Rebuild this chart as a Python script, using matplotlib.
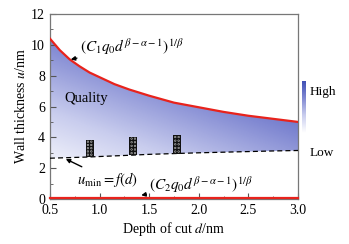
import numpy as np
import matplotlib
matplotlib.use("Agg")
import matplotlib.pyplot as plt
from matplotlib.colors import LinearSegmentedColormap
from matplotlib.path import Path
from matplotlib.patches import PathPatch

plt.rcParams['font.family'] = ['Liberation Serif', 'DejaVu Serif']
plt.rcParams['mathtext.fontset'] = 'stix'

# upper limit curve (C1 q0 d^(b-a-1))^(1/b)
d_pts = [0.5, 0.6, 0.7, 0.8, 0.9, 1.0, 1.15, 1.3, 1.5, 1.75, 2.0, 2.25, 2.5, 2.75, 3.0]
u_upper = [10.4, 9.65, 9.05, 8.6, 8.2, 7.9, 7.45, 7.1, 6.7, 6.25, 5.95, 5.65, 5.4, 5.2, 5.0]
# lower dashed line u_min = f(d)
u_lower = [2.65, 2.67, 2.69, 2.71, 2.73, 2.76, 2.8, 2.84, 2.9, 2.95, 3.0, 3.04, 3.08, 3.12, 3.15]
# second limit curve near zero
u_bottom = [0.08] * len(d_pts)

# hatched black markers (simulation samples)
mark_d = [0.9, 1.34, 1.78]
mark_lo = [2.75, 2.85, 2.95]
mark_hi = [3.85, 4.05, 4.15]

cmap = LinearSegmentedColormap.from_list("q", ["#ffffff", "#c9cdee", "#8088d2", "#3d4db3"])

fig = plt.figure(figsize=(3.49, 2.44), dpi=100)
ax = fig.add_axes([0.143, 0.184, 0.711, 0.759])

# gradient quality region
xx, yy = np.meshgrid(np.linspace(0.5, 3.0, 200), np.linspace(0, 12, 200))
field = np.clip(0.1 + 0.075 * (yy - 2.5) + 0.18 * (xx - 0.5), 0, 0.78)
im = ax.imshow(field, extent=[0.5, 3.0, 0, 12], origin="lower", cmap=cmap,
               vmin=0, vmax=1, aspect="auto", zorder=1)
verts = list(zip(d_pts, u_upper)) + list(zip(d_pts[::-1], u_lower[::-1]))
clip = PathPatch(Path(verts + [verts[0]]), transform=ax.transData, facecolor="none", edgecolor="none")
ax.add_patch(clip)
im.set_clip_path(clip)

ax.plot(d_pts, u_upper, color="#e8231c", lw=1.6, zorder=3)
ax.plot(d_pts, u_lower, color="black", lw=0.9, ls=(0, (4, 2.5)), zorder=3)
ax.plot(d_pts, u_bottom, color="#e8231c", lw=1.6, zorder=3, clip_on=False)

for dm, lo, hi in zip(mark_d, mark_lo, mark_hi):
    ax.bar(dm, hi - lo, bottom=lo, width=0.08, color="#111111", lw=0, zorder=4)
    rows = np.linspace(lo + 0.13, hi - 0.13, 5)
    for off in (-0.017, 0.017):
        ax.scatter([dm + off] * len(rows), rows, s=1.3, facecolor="none",
                   edgecolor="#dddddd", lw=0.35, zorder=5)

ax.set_xlim(0.5, 3.0)
ax.set_ylim(0, 12)
ax.set_xticks([0.5, 1.0, 1.5, 2.0, 2.5, 3.0])
ax.set_xticklabels(["0.5", "1.0", "1.5", "2.0", "2.5", "3.0"])
ax.set_yticks([0, 2, 4, 6, 8, 10, 12])
ax.set_xticks(np.arange(0.5, 3.01, 0.25), minor=True)
ax.set_yticks(np.arange(0, 12.1, 1), minor=True)
ax.tick_params(which="both", direction="in", labelsize=10, color="#555555")
ax.tick_params(which="major", length=4)
ax.tick_params(which="minor", length=2)
ax.tick_params(axis="x", pad=3.5)
for s in ax.spines.values():
    s.set_color("#777777")
    s.set_linewidth(0.9)

ax.set_xlabel("Depth of cut $d$/nm", fontsize=10, labelpad=2)
ax.set_ylabel("Wall thickness $u$/nm", fontsize=10, labelpad=2)

arrow = dict(arrowstyle="-|>", color="black", lw=1.0, mutation_scale=6, shrinkA=0, shrinkB=0)
ax.text(0.65, 6.5, "Quality", fontsize=10.5, va="center")
ax.annotate(r"$(C_1q_0d^{\beta-\alpha-1})^{1/\beta}$", xy=(0.71, 9.05), xytext=(0.8, 9.9),
            fontsize=11, va="center", arrowprops=arrow)
ax.annotate(r"$u_{\mathrm{min}}=f(d)$", xy=(0.66, 2.6), xytext=(0.77, 1.3),
            fontsize=10.5, va="center", arrowprops=arrow)
ax.annotate(r"$(C_2q_0d^{\beta-\alpha-1})^{1/\beta}$", xy=(1.42, 0.25), xytext=(1.5, 0.95),
            fontsize=11, va="center", arrowprops=arrow)

# small legend bar High / Low
cax = fig.add_axes([0.866, 0.455, 0.011, 0.215])
grad = np.linspace(0, 1, 100).reshape(-1, 1)
cax.imshow(grad, cmap=cmap, aspect="auto", origin="lower", extent=[0, 1, 0, 1])
cax.set_axis_off()
fig.text(0.888, 0.622, "High", fontsize=9.5, va="center")
fig.text(0.888, 0.375, "Low", fontsize=9.5, va="center")

fig.savefig("out.png", dpi=100)
